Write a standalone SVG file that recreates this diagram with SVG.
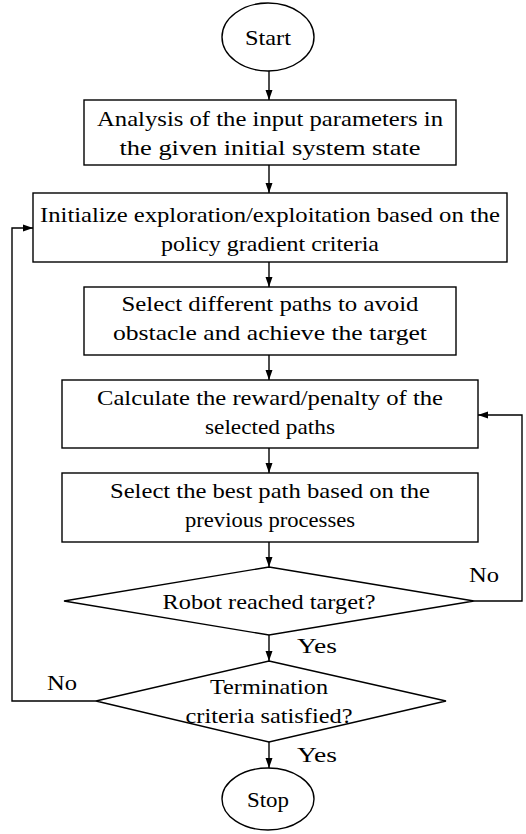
<svg xmlns="http://www.w3.org/2000/svg" width="526" height="834" viewBox="0 0 526 834">
  <defs>
    <marker id="arrow" viewBox="0 0 10 10" refX="10" refY="5" markerWidth="10" markerHeight="10" markerUnits="userSpaceOnUse" orient="auto">
      <path d="M0,1.5 L10,5 L0,8.5 Z" fill="#000"/>
    </marker>
    <style>
      .shape { fill: #fff; stroke: #000; stroke-width: 1.4; }
      .line { fill: none; stroke: #000; stroke-width: 1.4; }
      .arr { marker-end: url(#arrow); }
      .c { text-anchor: middle; }
    </style>
  </defs>

  <rect width="526" height="834" fill="#fff"/>

  <g font-family="'Liberation Serif', 'DejaVu Serif', serif" font-size="21" fill="#000">
  <g id="connectors">
    <line class="line arr" x1="269" y1="71" x2="269" y2="100"/>
    <line class="line arr" x1="269" y1="165" x2="269" y2="193"/>
    <line class="line arr" x1="269" y1="262" x2="269" y2="287"/>
    <line class="line arr" x1="269" y1="355" x2="269" y2="380"/>
    <line class="line arr" x1="269" y1="448" x2="269" y2="473"/>
    <line class="line arr" x1="269" y1="542" x2="269" y2="567"/>
    <line class="line arr" x1="269" y1="635" x2="269" y2="661"/>
    <line class="line arr" x1="269" y1="742" x2="269" y2="768"/>
    <!-- "No" from the target check loops back to the reward step -->
    <polyline class="line arr" points="474,601 522,601 522,415 478,415"/>
    <!-- "No" from the termination check loops back to initialization -->
    <polyline class="line arr" points="96,701 12,701 12,228 33,228"/>
    <text x="469" y="582" textLength="30" lengthAdjust="spacingAndGlyphs">No</text>
    <text x="47" y="690" textLength="30" lengthAdjust="spacingAndGlyphs">No</text>
    <text x="297" y="653" textLength="40" lengthAdjust="spacingAndGlyphs">Yes</text>
    <text x="297" y="762" textLength="40" lengthAdjust="spacingAndGlyphs">Yes</text>
  </g>

  <g id="start">
    <ellipse class="shape" cx="268" cy="37" rx="46" ry="34"/>
    <text class="c" x="268" y="45" textLength="46" lengthAdjust="spacingAndGlyphs">Start</text>
  </g>

  <g id="analysis">
    <rect class="shape" x="84" y="100" width="372" height="65"/>
    <text class="c" x="270" y="126" textLength="346" lengthAdjust="spacingAndGlyphs">Analysis of the input parameters in</text>
    <text class="c" x="270" y="155" textLength="301" lengthAdjust="spacingAndGlyphs">the given initial system state</text>
  </g>

  <g id="initialize">
    <rect class="shape" x="33" y="193" width="474" height="69"/>
    <text class="c" x="270" y="222" textLength="460" lengthAdjust="spacingAndGlyphs">Initialize exploration/exploitation based on the</text>
    <text class="c" x="270" y="251" textLength="218" lengthAdjust="spacingAndGlyphs">policy gradient criteria</text>
  </g>

  <g id="select-paths">
    <rect class="shape" x="84" y="287" width="372" height="68"/>
    <text class="c" x="270" y="311" textLength="297" lengthAdjust="spacingAndGlyphs">Select different paths to avoid</text>
    <text class="c" x="270" y="340" textLength="314" lengthAdjust="spacingAndGlyphs">obstacle and achieve the target</text>
  </g>

  <g id="reward">
    <rect class="shape" x="62" y="380" width="416" height="68"/>
    <text class="c" x="270" y="405" textLength="346" lengthAdjust="spacingAndGlyphs">Calculate the reward/penalty of the</text>
    <text class="c" x="270" y="434" textLength="130" lengthAdjust="spacingAndGlyphs">selected paths</text>
  </g>

  <g id="best-path">
    <rect class="shape" x="62" y="473" width="416" height="69"/>
    <text class="c" x="270" y="498" textLength="320" lengthAdjust="spacingAndGlyphs">Select the best path based on the</text>
    <text class="c" x="270" y="527" textLength="170" lengthAdjust="spacingAndGlyphs">previous processes</text>
  </g>

  <g id="reached-target">
    <polygon class="shape" points="269,567 474,601 269,635 64,601"/>
    <text class="c" x="269" y="609" textLength="213" lengthAdjust="spacingAndGlyphs">Robot reached target?</text>
  </g>

  <g id="termination">
    <polygon class="shape" points="269,661 446,701 269,742 96,701"/>
    <text class="c" x="269" y="694" textLength="118" lengthAdjust="spacingAndGlyphs">Termination</text>
    <text class="c" x="269" y="723" textLength="167" lengthAdjust="spacingAndGlyphs">criteria satisfied?</text>
  </g>

  <g id="stop">
    <ellipse class="shape" cx="268" cy="799" rx="46" ry="31"/>
    <text class="c" x="268" y="807" textLength="42" lengthAdjust="spacingAndGlyphs">Stop</text>
  </g>
  </g>
</svg>
